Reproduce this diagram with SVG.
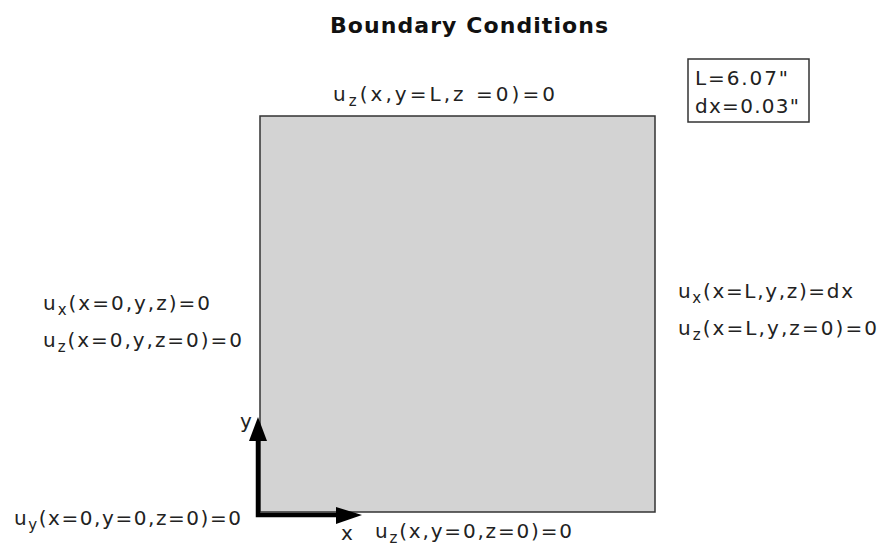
<svg xmlns="http://www.w3.org/2000/svg" width="878" height="548" viewBox="0 0 878 548">
<style>
.t{font-family:"DejaVu Sans","Liberation Sans",sans-serif;font-size:20px;fill:#222;}
.s{font-size:15px;}
.title{font-family:"DejaVu Sans","Liberation Sans",sans-serif;font-size:22px;font-weight:bold;fill:#111;}
.plate{fill:#d3d3d3;stroke:#333;stroke-width:1.5;}
.box{fill:#fff;stroke:#333;stroke-width:1.5;}
.axis{stroke:#000;stroke-width:4.5;fill:none;}
.head{fill:#000;}
</style>
<rect width="878" height="548" fill="#fff"/>
<g id="title"><text class="title" x="330" y="33" textLength="278">Boundary Conditions</text></g>
<g id="plate"><rect class="plate" x="260" y="116" width="395" height="396"/></g>
<g id="params">
<rect class="box" x="688" y="59" width="121" height="63"/>
<text class="t" x="695" y="85" textLength="93">L=6.07"</text>
<text class="t" x="695" y="113" textLength="104">dx=0.03"</text>
</g>
<g id="top-bc"><text class="t" x="333" y="101" textLength="222">u<tspan class="s" dy="5">z</tspan><tspan dy="-5">(x,y=L,z =0)=0</tspan></text></g>
<g id="left-bc">
<text class="t" x="43" y="310" textLength="167">u<tspan class="s" dy="5">x</tspan><tspan dy="-5">(x=0,y,z)=0</tspan></text>
<text class="t" x="43" y="347" textLength="199">u<tspan class="s" dy="5">z</tspan><tspan dy="-5">(x=0,y,z=0)=0</tspan></text>
</g>
<g id="right-bc">
<text class="t" x="678" y="298" textLength="175">u<tspan class="s" dy="5">x</tspan><tspan dy="-5">(x=L,y,z)=dx</tspan></text>
<text class="t" x="678" y="335" textLength="199">u<tspan class="s" dy="5">z</tspan><tspan dy="-5">(x=L,y,z=0)=0</tspan></text>
</g>
<g id="origin-bc"><text class="t" x="14" y="525" textLength="227">u<tspan class="s" dy="5">y</tspan><tspan dy="-5">(x=0,y=0,z=0)=0</tspan></text></g>
<g id="bottom-bc"><text class="t" x="375" y="538" textLength="197">u<tspan class="s" dy="5">z</tspan><tspan dy="-5">(x,y=0,z=0)=0</tspan></text></g>
<g id="axis-labels">
<text class="t" x="240" y="428">y</text>
<text class="t" x="341" y="540">x</text>
</g>
<g id="connectors">
<path class="axis" d="M258,438 V515 H338"/>
<polygon class="head" points="249,441 258,417 267,441"/>
<polygon class="head" points="336,507 362,515 336,524"/>
</g>
</svg>
